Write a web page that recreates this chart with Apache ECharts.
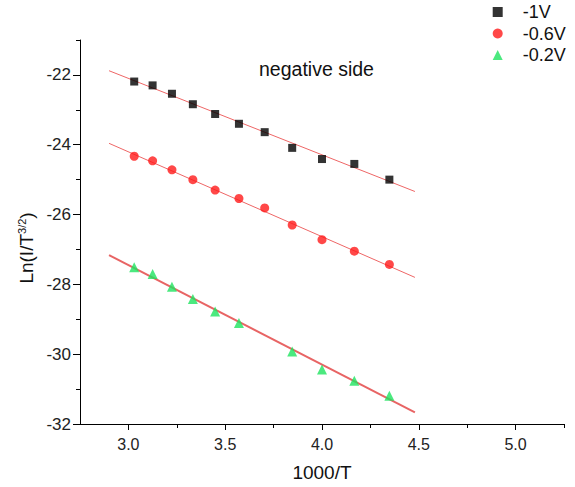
<!DOCTYPE html>
<html>
<head>
<meta charset="utf-8">
<script src="https://cdn.jsdelivr.net/npm/echarts@6/dist/echarts.min.js"></script>
<style>html,body{margin:0;padding:0;background:#fff;}#c{width:575px;height:487px;}</style>
</head>
<body>
<div id="c"></div>
<script>
// ---- data ----
const xAll = [3.03, 3.125, 3.225, 3.333, 3.448, 3.571, 3.704, 3.846, 4.0, 4.167, 4.348];
const yMinus1V = [-22.19, -22.30, -22.54, -22.84, -23.12, -23.40, -23.64, -24.09, -24.41, -24.55, -25.00];
const yMinus06V = [-24.33, -24.46, -24.72, -25.00, -25.30, -25.54, -25.81, -26.30, -26.72, -27.05, -27.43];
const xGreen = [3.03, 3.125, 3.225, 3.333, 3.448, 3.571, 3.846, 4.0, 4.167, 4.348];
const yMinus02V = [-27.51, -27.70, -28.07, -28.42, -28.78, -29.11, -29.92, -30.44, -30.76, -31.19];
// linear fit lines (end points)
const fitX = [2.9, 4.48];
const fit1V = [-21.88, -25.34];
const fit06V = [-23.96, -27.80];
const fit02V = [-27.16, -31.67];
// axis ticks
const xMajor = [3.0, 3.5, 4.0, 4.5, 5.0];
const xMinor = [3.25, 3.75, 4.25, 4.75, 5.25];
const yMajor = [-32, -30, -28, -26, -24, -22];
const yMinor = [-31, -29, -27, -25, -23, -21];
const seriesNames = ['-1V', '-0.6V', '-0.2V'];

const FONT = 'Liberation Sans, Arial, sans-serif';
const zip = (a, b) => a.map((v, i) => [v, b[i]]);

const chart = echarts.init(document.getElementById('c'), null, {renderer: 'svg'});
const axisLine = {show: true, lineStyle: {color: '#000', width: 1}};
chart.setOption({
  animation: false,
  backgroundColor: '#fff',
  title: {
    text: 'negative side', left: 254, top: 54,
    textStyle: {fontFamily: FONT, fontSize: 19.5, fontWeight: 'normal', color: '#111'}
  },
  legend: {
    orient: 'vertical', left: 492.7, top: 3, padding: 0, itemGap: 3.5,
    itemWidth: 10, itemHeight: 10,
    data: seriesNames,
    textStyle: {fontFamily: FONT, fontSize: 18, color: '#111', lineHeight: 18, padding: [0, 0, 0, 15]}
  },
  grid: {left: 80, right: 11, top: 40, bottom: 63, containLabel: false},
  xAxis: [{
    type: 'value', min: 2.75, max: 5.25, position: 'bottom',
    name: '1000/T', nameLocation: 'middle', nameGap: 39,
    nameTextStyle: {fontFamily: FONT, fontSize: 19, color: '#111'},
    axisLine: axisLine,
    axisTick: {show: true, customValues: xMajor, length: 6, lineStyle: {color: '#000'}},
    axisLabel: {customValues: xMajor, margin: 12, fontFamily: FONT, fontSize: 16, color: '#222',
      formatter: v => v.toFixed(1)},
    splitLine: {show: false}
  }, {
    type: 'value', min: 2.75, max: 5.25, position: 'bottom', gridIndex: 0,
    axisLine: {show: false},
    axisTick: {show: true, customValues: xMinor, length: 4, lineStyle: {color: '#000'}},
    axisLabel: {show: false}, splitLine: {show: false}
  }],
  yAxis: [{
    type: 'value', min: -32, max: -21, position: 'left',
    name: '{a|Ln(I/T}{s|3/2}{a|)}', nameLocation: 'middle', nameGap: 43,
    nameTextStyle: {
      fontFamily: FONT, fontSize: 19, color: '#111', padding: [0, 32, 0, 0],
      rich: {
        a: {fontFamily: FONT, fontSize: 19, color: '#111'},
        s: {fontFamily: FONT, fontSize: 11, color: '#111', verticalAlign: 'top', padding: [0, 0, 6, 0]}
      }
    },
    axisLine: axisLine,
    axisTick: {show: true, customValues: yMajor, length: 7, lineStyle: {color: '#000'}},
    axisLabel: {customValues: yMajor, margin: 9, fontFamily: FONT, fontSize: 17, color: '#222'},
    splitLine: {show: false}
  }, {
    type: 'value', min: -32, max: -21, position: 'left', gridIndex: 0,
    axisLine: {show: false},
    axisTick: {show: true, customValues: yMinor, length: 4, lineStyle: {color: '#000'}},
    axisLabel: {show: false}, splitLine: {show: false}
  }],
  series: [
    {name: 'fit1', type: 'line', data: zip(fitX, fit1V), symbol: 'none', silent: true,
      lineStyle: {color: '#ee6666', width: 1}, z: 1},
    {name: 'fit06', type: 'line', data: zip(fitX, fit06V), symbol: 'none', silent: true,
      lineStyle: {color: '#ee6666', width: 1}, z: 1},
    {name: 'fit02', type: 'line', data: zip(fitX, fit02V), symbol: 'none', silent: true,
      lineStyle: {color: '#e86464', width: 2}, z: 1},
    {name: seriesNames[0], type: 'scatter', data: zip(xAll, yMinus1V), symbol: 'rect', symbolSize: 8,
      itemStyle: {color: '#000'}, z: 3},
    {name: seriesNames[1], type: 'scatter', data: zip(xAll, yMinus06V), symbol: 'circle', symbolSize: 9,
      itemStyle: {color: '#ff1a1a'}, z: 3},
    {name: seriesNames[2], type: 'scatter', data: zip(xGreen, yMinus02V), symbol: 'triangle', symbolSize: 10,
      itemStyle: {color: '#1ee35f'}, z: 3}
  ]
});
</script>
</body>
</html>
